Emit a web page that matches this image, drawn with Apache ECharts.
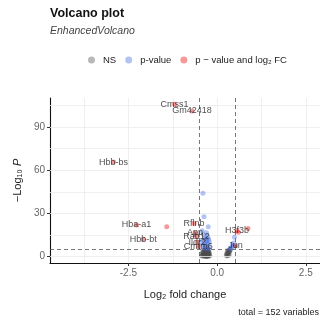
<!DOCTYPE html>
<html><head><meta charset="utf-8">
<script src="https://cdn.jsdelivr.net/npm/echarts@6/dist/echarts.min.js"></script>
<style>html,body{margin:0;padding:0;background:#fff}#c{width:320px;height:325px}</style>
</head><body><div id="c"></div>
<script>
// ---- data ----
const xTicks = [-2.5, 0, 2.5];
const xTickLabels = ['-2.5', '0.0', '2.5'];
const yTicks = [0, 30, 60, 90];
const xGrid = [-3.75, -2.5, -1.25, 0, 1.25, 2.5];
const yGrid = [0, 15, 30, 45, 60, 75, 90, 105];
const fcCut = [-0.5, 0.5];
const pCut = 5;

const nsX = [-0.44,-0.43,-0.42,-0.41,-0.40,-0.40,-0.39,-0.38,-0.38,-0.37,
-0.36,-0.36,-0.35,-0.35,-0.34,-0.34,-0.33,-0.33,-0.32,-0.32,
-0.31,-0.31,-0.30,-0.30,-0.30,-0.29,-0.29,-0.28,-0.28,-0.28,
-0.27,-0.27,-0.26,-0.26,-0.26,-0.25,-0.25,-0.24,-0.24,-0.23,
-0.23,-0.22,-0.22,-0.21,-0.34,-0.31,-0.29,-0.27,-0.33,-0.30,
-0.36,-0.32,-0.28,-0.25,-0.38,-0.35,-0.31,-0.27,-0.24,-0.30,
0.26,0.27,0.28,0.29,0.30,0.30,0.31,0.32,0.33,0.34,0.35,0.36,0.37,0.28,0.32,0.34];
const nsY = [0.4,1.2,2.5,0.8,3.1,1.6,4.2,0.3,2.2,3.6,
1.0,4.6,2.8,0.5,3.9,1.7,0.9,4.4,2.6,1.3,
3.3,0.2,4.8,2.0,0.7,3.7,1.5,0.4,2.9,4.1,
1.1,3.4,0.6,2.4,4.5,1.9,3.0,0.8,3.8,2.1,
1.4,0.5,2.7,1.0,0.3,1.8,0.1,2.3,3.5,1.2,
2.0,0.6,1.6,0.2,1.0,4.0,2.5,4.7,3.2,3.9,
1.0,2.2,1.5,3.0,0.8,4.2,2.5,1.8,3.6,2.8,4.5,3.9,4.8,0.5,4.0,1.2];

const pvX = [-0.40,-0.37,-0.25,-0.42,-0.30,-0.38,-0.27,-0.33,-0.24,-0.41,-0.29,-0.35,-0.26,-0.31,-0.39,-0.23,-0.34,-0.28,-0.36,-0.25,-0.32,-0.44,-0.22,0.49,0.45,0.40,0.36,0.47,0.43];
const pvY = [43.9,27.7,20.8,18.0,16.5,15.2,14.0,13.1,12.3,11.5,10.8,10.0,9.2,8.5,7.9,7.3,6.8,6.2,5.7,5.3,12.0,9.5,10.5,13.4,7.0,6.2,5.5,9.5,8.0];

const fcX = [-1.20,-0.71,-2.92,-2.27,-1.42,-2.08,-0.65,-0.62,-0.58,-0.56,-0.53,0.56,0.87,0.60,0.52];
const fcY = [105.7,101.0,65.6,22.0,20.8,12.0,23.0,16.5,14.0,10.0,7.0,18.0,19.5,17.0,7.5];
const fcNames = ['Cmss1','Gm42418','Hbb-bs','Hba-a1','','Hbb-bt','Rflnb','App','Rab12','Ildr2','Cmtm6','H3f3b','','','Jun'];

const legendNames = ['NS', 'p-value', 'p \u2212 value and log\u2082 FC'];

// ---- style-only tables ----
const labelOffsets = [[2,0],[-3,0],[0,0],[1,0],[0,0],[1,0],[-1,-3],[1,-5],[-3,0],[-9,1],[-4,2],[0,-4],[0,0],[0,0],[0,-3]];

const zip = (xs, ys) => xs.map((x, i) => [x, ys[i]]);
const FONT = '"Liberation Sans", Arial, sans-serif';

const chart = echarts.init(document.getElementById('c'));
chart.setOption({
  animation: false,
  textStyle: { fontFamily: FONT },
  title: [
    { text: 'Volcano plot', left: 50, top: 7, padding: 0, textStyle: { fontSize: 12.5, fontWeight: 'bold', color: '#111', fontFamily: FONT } },
    { text: 'EnhancedVolcano', left: 50, top: 26, padding: 0, textStyle: { fontSize: 10.5, fontStyle: 'italic', fontWeight: 'normal', color: '#444', fontFamily: FONT } }
  ],
  legend: {
    left: 88, top: 55, itemWidth: 7, itemHeight: 7, itemGap: 9, padding: 0,
    icon: 'circle',
    data: legendNames,
    textStyle: { fontSize: 9.5, color: '#222', padding: [0, 0, 0, 3] }
  },
  grid: { left: 50, top: 98, width: 279, height: 165, containLabel: false },
  xAxis: {
    type: 'value', min: -4.71, max: 2.9,
    name: 'Log\u2082 fold change', nameLocation: 'middle', nameGap: 26,
    nameTextStyle: { fontSize: 11, color: '#222' },
    axisLine: { show: true, onZero: false, lineStyle: { color: '#111', width: 1.1 } },
    axisTick: { show: true, length: 3, customValues: xTicks, lineStyle: { color: '#333' } },
    axisLabel: { customValues: xTicks, fontSize: 10, color: '#666', margin: 5,
      formatter: v => xTickLabels[xTicks.indexOf(v)] ?? '' },
    splitLine: { show: false }
  },
  yAxis: {
    type: 'value', min: -4.4, max: 110,
    name: '{a|\u2212Log\u2081\u2080 }{b|P}', nameLocation: 'middle', nameGap: 27,
    nameTextStyle: { fontSize: 11, color: '#222', rich: { a: { fontSize: 11, color: '#222' }, b: { fontSize: 11, fontStyle: 'italic', color: '#222' } } },
    axisLine: { show: true, onZero: false, lineStyle: { color: '#111', width: 1.1 } },
    axisTick: { show: true, length: 3, customValues: yTicks, lineStyle: { color: '#333' } },
    axisLabel: { customValues: yTicks, fontSize: 10, color: '#666', margin: 5 },
    splitLine: { show: false }
  },
  series: [
    {
      name: 'grid', type: 'scatter', data: [], z: 1, silent: true,
      markLine: {
        silent: true, symbol: 'none', label: { show: false },
        lineStyle: { color: '#ebebeb', width: 0.8, type: 'solid' },
        data: xGrid.map(v => ({ xAxis: v })).concat(yGrid.map(v => ({ yAxis: v })))
      }
    },
    {
      name: 'cut', type: 'scatter', data: [], z: 3, silent: true,
      markLine: {
        silent: true, symbol: 'none', label: { show: false },
        lineStyle: { color: '#555', width: 0.8, type: [4, 3] },
        data: fcCut.map(v => ({ xAxis: v })).concat([{ yAxis: pCut }])
      }
    },
    {
      name: legendNames[0], type: 'scatter', z: 4, symbolSize: 5,
      itemStyle: { color: 'rgba(77,77,77,0.5)' },
      data: zip(nsX, nsY)
    },
    {
      name: legendNames[1], type: 'scatter', z: 5, symbolSize: 5,
      itemStyle: { color: 'rgba(65,105,225,0.5)' },
      data: zip(pvX, pvY)
    },
    {
      name: legendNames[2], type: 'scatter', z: 6, symbolSize: 5,
      itemStyle: { color: 'rgba(238,0,0,0.5)' },
      data: fcX.map((x, i) => ({
        value: [x, fcY[i]], name: fcNames[i],
        label: { offset: labelOffsets[i] }
      })),
      label: {
        show: true, position: 'inside', formatter: p => p.name,
        fontSize: 9, color: '#222', fontFamily: FONT
      },
      labelLayout: { hideOverlap: false }
    }
  ],
  graphic: [
    { type: 'text', right: 1, top: 308, style: { text: 'total = 152 variables', fontSize: 9, fill: '#222', font: '9px ' + FONT } }
  ]
});
</script></body></html>
